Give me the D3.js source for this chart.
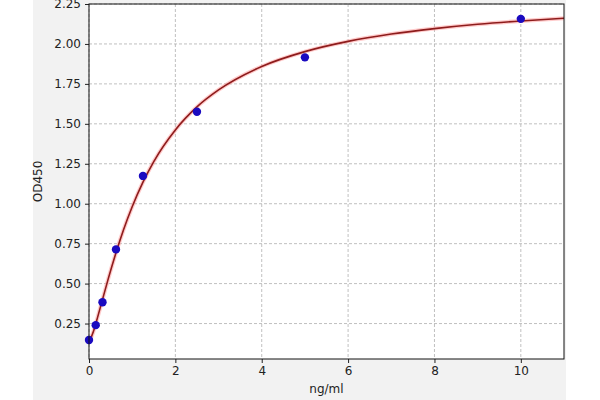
<!DOCTYPE html>
<html>
<head>
<meta charset="utf-8">
<script src="https://cdn.jsdelivr.net/npm/d3@7"></script>
<style>
  body { margin: 0; background: #fff; }
  svg { display: block; font-family: "DejaVu Sans", sans-serif; }
</style>
</head>
<body>
<svg id="chart" width="600" height="400"></svg>
<script>
// standard points (ng/ml vs OD450)
var concentrations = [0, 0.156, 0.3125, 0.625, 1.25, 2.5, 5, 10];
var odValues = [0.147, 0.240, 0.383, 0.714, 1.174, 1.576, 1.916, 2.157];

// fitted curve
var curveX = [0, 0.1, 0.2, 0.3, 0.45, 0.625, 0.8, 1, 1.25, 1.5, 2, 2.5, 3, 4, 5, 6, 7, 8, 9, 10, 11];
var curveY = [0.13, 0.198, 0.290, 0.388, 0.534, 0.693, 0.837, 0.981, 1.135, 1.264, 1.462, 1.606, 1.712, 1.859, 1.952, 2.016, 2.062, 2.096, 2.123, 2.144, 2.161];

var xTicks = [0, 2, 4, 6, 8, 10];
var yTicks = [0.25, 0.50, 0.75, 1.00, 1.25, 1.50, 1.75, 2.00, 2.25];

var svg = d3.select('#chart');
var margin = {left: 89, top: 4, right: 36, bottom: 41};
var width = 600 - margin.left - margin.right,
    height = 400 - margin.top - margin.bottom;
var fontSize = 12;

// grey figure background
svg.append('rect')
  .attr('x', 33).attr('y', 0)
  .attr('width', 533).attr('height', 400)
  .attr('fill', '#f2f2f2');

var g = svg.append('g')
  .attr('transform', 'translate(' + margin.left + ',' + margin.top + ')');

var x = d3.scaleLinear().domain([0, 11]).range([0, width]);
var y = d3.scaleLinear().domain([0.028, 2.25]).range([height, 0]);

g.append('rect')
  .attr('width', width).attr('height', height)
  .attr('fill', '#fff');

// grid
g.selectAll('.vgrid').data(xTicks).enter().append('line')
  .attr('x1', function(d){ return x(d); }).attr('x2', function(d){ return x(d); })
  .attr('y1', 0).attr('y2', height)
  .attr('stroke', '#b0b0b0').attr('stroke-width', 0.8)
  .attr('stroke-dasharray', '3,2');
g.selectAll('.hgrid').data(yTicks).enter().append('line')
  .attr('x1', 0).attr('x2', width)
  .attr('y1', function(d){ return y(d); }).attr('y2', function(d){ return y(d); })
  .attr('stroke', '#b0b0b0').attr('stroke-width', 0.8)
  .attr('stroke-dasharray', '3,2');

// fitted line
var line = d3.line()
  .x(function(d){ return x(d[0]); })
  .y(function(d){ return y(d[1]); })
  .curve(d3.curveMonotoneX);
var curveData = d3.zip(curveX, curveY);

g.append('path').datum(curveData)
  .attr('d', line).attr('fill', 'none')
  .attr('stroke', '#ffa0a0').attr('stroke-opacity', 0.55).attr('stroke-width', 4);
g.append('path').datum(curveData)
  .attr('d', line).attr('fill', 'none')
  .attr('stroke', '#8e1c1c').attr('stroke-width', 1.6);

// points
g.selectAll('.pt').data(d3.zip(concentrations, odValues)).enter().append('circle')
  .attr('cx', function(d){ return x(d[0]); })
  .attr('cy', function(d){ return y(d[1]); })
  .attr('r', 4.2)
  .attr('fill', '#1a0ac0');

// axes
var xAxis = g.append('g')
  .attr('transform', 'translate(0,' + height + ')')
  .call(d3.axisBottom(x).tickValues(xTicks).tickSize(4).tickPadding(3).tickFormat(d3.format('d')));
var yAxis = g.append('g')
  .call(d3.axisLeft(y).tickValues(yTicks).tickSize(4).tickPadding(4).tickFormat(d3.format('.2f')));

[xAxis, yAxis].forEach(function(a){
  a.select('.domain').remove();
  a.selectAll('text').attr('font-size', fontSize).attr('fill', '#222')
    .attr('font-family', '"DejaVu Sans", sans-serif');
  a.selectAll('line').attr('stroke', '#222');
});

// frame
g.append('rect')
  .attr('width', width).attr('height', height)
  .attr('fill', 'none').attr('stroke', '#111').attr('stroke-width', 1);

svg.append('text')
  .attr('x', margin.left + width / 2).attr('y', 393)
  .attr('text-anchor', 'middle').attr('font-size', fontSize).attr('fill', '#222')
  .text('ng/ml');

svg.append('text')
  .attr('transform', 'translate(42,' + (margin.top + height / 2) + ') rotate(-90)')
  .attr('text-anchor', 'middle').attr('font-size', fontSize).attr('fill', '#222')
  .text('OD450');
</script>
</body>
</html>
